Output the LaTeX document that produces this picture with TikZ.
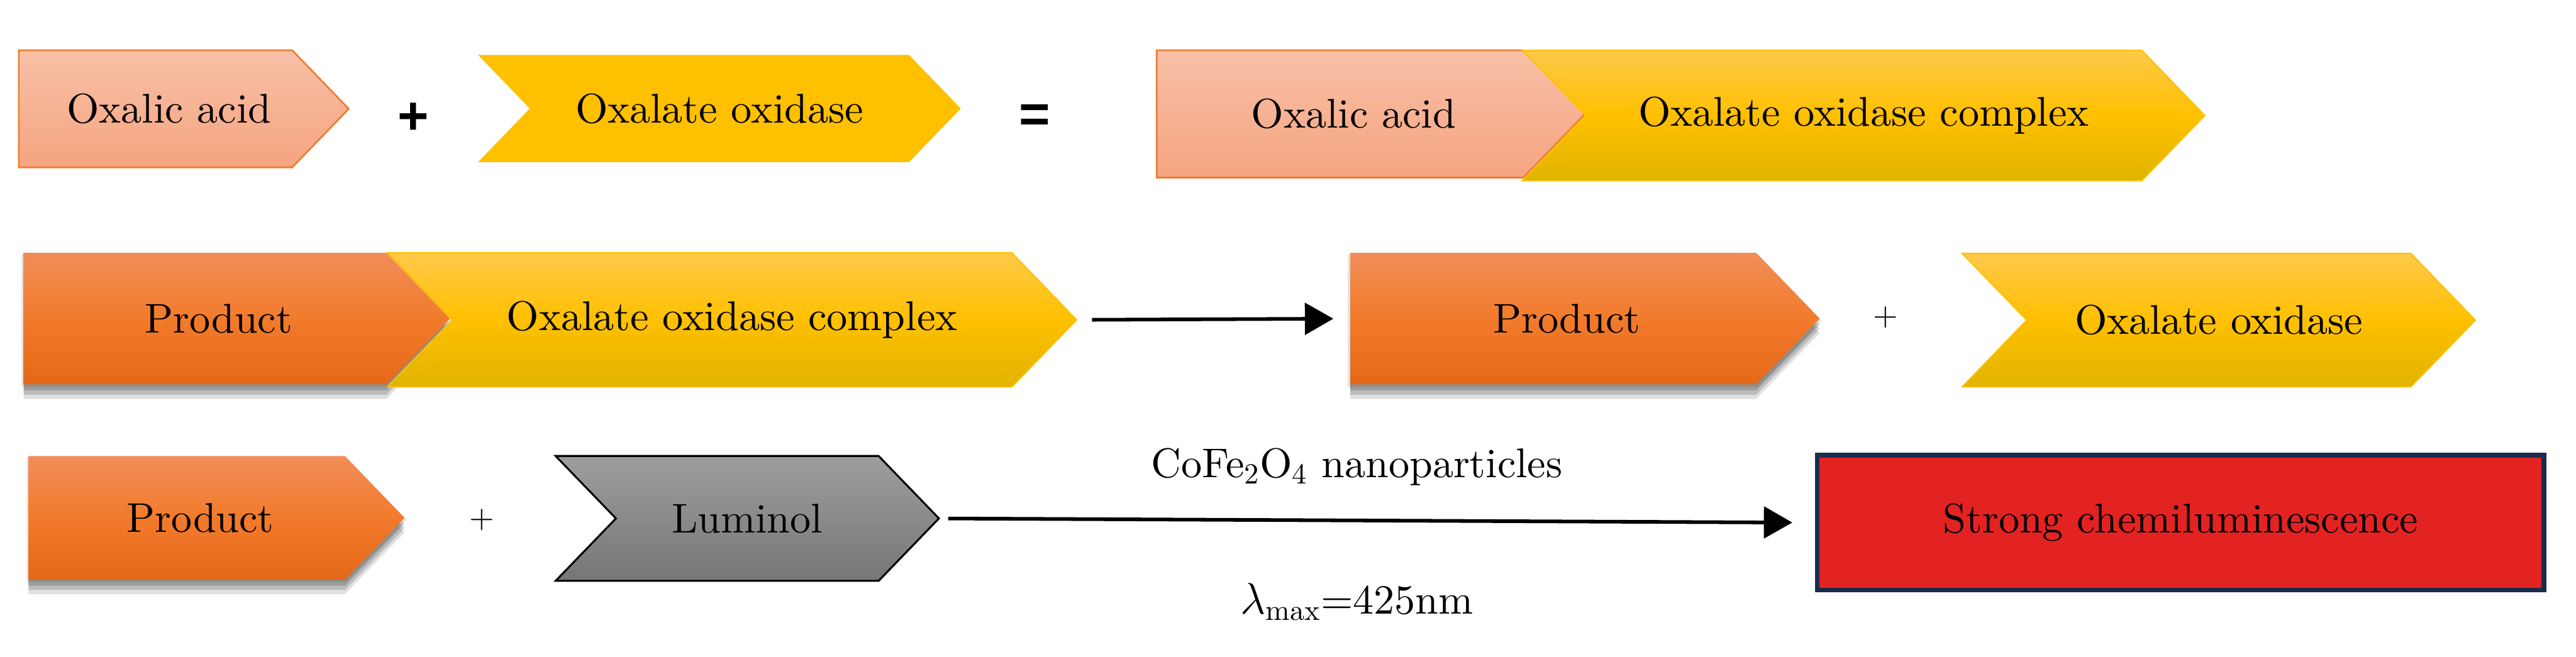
\documentclass[tikz,border=0pt]{standalone}
\usepackage{fontspec}
\usepackage{xcolor}
\usepackage{tikz}
\usetikzlibrary{arrows.meta, shapes, shadows}
\newfontfamily\rxnface{lmroman10-regular}[Extension=.otf]
\newfontfamily\opsans{Liberation Sans}
\definecolor{acidline}{HTML}{ED7D31}
\definecolor{acidtop}{HTML}{F8C0A8}
\definecolor{acidbot}{HTML}{F5A47F}
\definecolor{enzflat}{HTML}{FFC000}
\definecolor{enztop}{HTML}{FFC94A}
\definecolor{enzbot}{HTML}{E0B400}
\definecolor{prodtop}{HTML}{F18D5A}
\definecolor{prodmid}{HTML}{F27B2B}
\definecolor{prodbot}{HTML}{E46818}
\definecolor{lumtop}{HTML}{9E9E9E}
\definecolor{lumbot}{HTML}{767676}
\definecolor{glowred}{HTML}{E32322}
\definecolor{glowline}{HTML}{1B2B50}
\newcommand{\rxnfont}{\rxnface\fontsize{19.5}{23}\selectfont}
\tikzset{
  tag/.style={signal, signal from=nowhere, signal to=east, signal pointer angle=92,
              inner sep=0pt, font=\rxnfont, execute at begin node={\hspace*{0.45cm}}},
  chev/.style={signal, signal from=west, signal to=east, signal pointer angle=92,
               inner sep=0pt, font=\rxnfont},
  acid/.style={tag, draw=acidline, line width=0.8pt, top color=acidtop, bottom color=acidbot},
  enz/.style={chev, fill=enzflat},
  cplx/.style={chev, draw=enzflat, line width=0.6pt, top color=enztop, bottom color=enzbot,
               middle color=enzflat},
  prod/.style={tag, top color=prodtop, bottom color=prodbot, middle color=prodmid,
               general shadow={fill=black, opacity=.10, shadow yshift=-0.03cm, shadow scale=1.01},
               general shadow={fill=black, opacity=.16, shadow yshift=-0.10cm},
               general shadow={fill=black, opacity=.16, shadow yshift=-0.17cm},
               general shadow={fill=black, opacity=.12, shadow yshift=-0.24cm}},
  lum/.style={chev, draw=black, line width=0.9pt, top color=lumtop, bottom color=lumbot},
  glow/.style={rectangle, draw=glowline, line width=0.08cm, fill=glowred, font=\rxnfont},
  op/.style={inner sep=0pt, font=\rxnface\fontsize{15}{18}\selectfont},
  bigop/.style={inner sep=0pt, font=\opsans\bfseries\fontsize{25}{30}\selectfont},
  lbl/.style={inner sep=0pt, font=\rxnfont},
  rxn/.style={-{Triangle[length=0.47cm, width=0.52cm]}, line width=0.06cm}
}

\begin{document}
\begin{tikzpicture}
  \useasboundingbox (0,0) rectangle (42.47,10.83);

  % row 1: oxalic acid binds the enzyme
  \node[acid, minimum width=5.44cm, minimum height=1.93cm] (acid1) at (2.564,9.035) {Oxalic acid};
  \node[bigop] (plus1) at (6.81,8.87) {+};
  \node[enz, minimum width=7.96cm, minimum height=1.77cm] (oxid1) at (11.86,9.04) {Oxalate oxidase};
  \node[bigop] (eq1) at (17.06,8.88) {=};
  \node[acid, minimum width=7.06cm, minimum height=2.10cm] (acid2) at (22.093,8.95) {Oxalic acid};
  \node[cplx, minimum width=11.25cm, minimum height=2.15cm] (cplx1) at (30.725,8.925) {Oxalate oxidase complex};

  % row 2: complex releases the product
  \node[prod, minimum width=7.03cm, minimum height=2.17cm] (prod2a) at (3.381,5.575) {Product};
  \node[cplx, minimum width=11.36cm, minimum height=2.21cm] (cplx2) at (12.07,5.555) {Oxalate oxidase complex};
  \node[prod, minimum width=7.74cm, minimum height=2.17cm] (prod2b) at (25.606,5.575) {Product};
  \node[op] (plus2) at (31.09,5.60) {+};
  \node[cplx, minimum width=8.46cm, minimum height=2.20cm] (oxid2) at (36.58,5.55) {Oxalate oxidase};
  \draw[rxn, shorten <=0.24cm, shorten >=0.27cm] (cplx2.east) -- (prod2b.west);

  % row 3: luminol reaction
  \node[prod, minimum width=6.20cm, minimum height=2.04cm] (prod3) at (3.078,2.29) {Product};
  \node[op] (plus3) at (7.95,2.26) {+};
  \node[lum, minimum width=6.32cm, minimum height=2.06cm] (lum3) at (12.32,2.28) {Luminol};
  \node[glow, minimum width=11.98cm, minimum height=2.22cm] (red3) at (35.95,2.21) {Strong chemiluminescence};
  \draw[rxn, shorten <=0.13cm, shorten >=0.37cm] (lum3.east) -- (red3.west);
  \node[lbl, anchor=base] (cat) at (22.37,2.96) {CoFe\textsubscript{2}O\textsubscript{4} nanoparticles};
  \node[lbl, anchor=base] (lmax) at (22.37,0.71) {$\lambda$\textsubscript{max}=425nm};
\end{tikzpicture}
\end{document}
